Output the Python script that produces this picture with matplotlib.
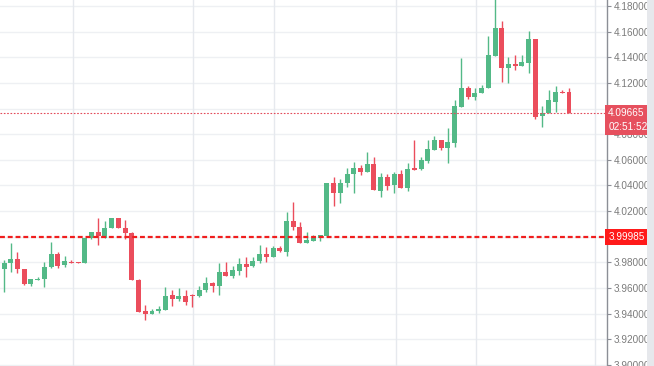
import numpy as np
import matplotlib.pyplot as plt
from matplotlib.patches import Rectangle
from matplotlib.transforms import blended_transform_factory

# candle data (oldest first)
open_ = [3.9749, 3.9796, 3.9827, 3.9749, 3.9632, 3.9663, 3.9671, 3.9764, 3.9866, 3.9780,
         3.9803, 3.9800, 3.9796, 3.9991, 4.0037, 3.9991, 4.0069, 4.0147, 4.0069, 4.0030,
         3.9663, 3.9421, 3.9398, 3.9421, 3.9429, 3.9546, 3.9515, 3.9538, 3.9546, 3.9538,
         3.9585, 3.9640, 3.9616, 3.9725, 3.9694, 3.9733, 3.9788, 3.9772, 3.9811, 3.9866,
         3.9843, 3.9913, 3.9881, 4.0123, 4.0076, 3.9952, 3.9967, 3.9991, 4.0006, 4.0420,
         4.0342, 4.0420, 4.0490, 4.0537, 4.0505, 4.0568, 4.0357, 4.0466, 4.0404, 4.0490,
         4.0381, 4.0537, 4.0529, 4.0591, 4.0677, 4.0755, 4.0693, 4.0732, 4.1012, 4.1161,
         4.1090, 4.1122, 4.1161, 4.1410, 4.1629, 4.1317, 4.1348, 4.1332, 4.1356, 4.1543,
         4.0942, 4.0966, 4.1051, 4.1129, 4.1129]
high = [3.9819, 3.9952, 3.9881, 3.9749, 3.9671, 3.9686, 3.9803, 3.9960, 3.9881, 3.9850,
        3.9819, 3.9803, 3.9991, 4.0037, 4.0147, 4.0123, 4.0147, 4.0147, 4.0131, 4.0037,
        3.9671, 3.9468, 3.9437, 3.9460, 3.9608, 3.9585, 3.9601, 3.9585, 3.9554, 3.9616,
        3.9686, 3.9648, 3.9796, 3.9803, 3.9772, 3.9835, 3.9843, 3.9843, 3.9936, 3.9921,
        3.9928, 3.9928, 4.0193, 4.0271, 4.0115, 4.0037, 4.0014, 4.0014, 4.0420, 4.0466,
        4.0451, 4.0537, 4.0583, 4.0560, 4.0661, 4.0622, 4.0498, 4.0490, 4.0505, 4.0521,
        4.0576, 4.0755, 4.0622, 4.0755, 4.0786, 4.0755, 4.0849, 4.1067, 4.1395, 4.1176,
        4.1161, 4.1184, 4.1566, 4.1860, 4.1683, 4.1402, 4.1418, 4.1418, 4.1605, 4.1543,
        4.1020, 4.1145, 4.1176, 4.1145, 4.1161]
low = [3.9569, 3.9725, 3.9718, 3.9624, 3.9616, 3.9663, 3.9608, 3.9757, 3.9757, 3.9764,
       3.9796, 3.9794, 3.9796, 3.9983, 3.9936, 3.9991, 4.0069, 4.0069, 3.9983, 3.9663,
       3.9413, 3.9351, 3.9398, 3.9406, 3.9429, 3.9460, 3.9499, 3.9468, 3.9452, 3.9530,
       3.9569, 3.9569, 3.9546, 3.9694, 3.9679, 3.9702, 3.9686, 3.9764, 3.9796, 3.9803,
       3.9843, 3.9881, 3.9850, 4.0053, 3.9952, 3.9952, 3.9967, 3.9967, 3.9998, 4.0240,
       4.0263, 4.0389, 4.0342, 4.0482, 4.0505, 4.0365, 4.0311, 4.0365, 4.0342, 4.0381,
       4.0357, 4.0521, 4.0521, 4.0576, 4.0677, 4.0677, 4.0576, 4.0700, 4.1012, 4.1075,
       4.1067, 4.1122, 4.1161, 4.1410, 4.1207, 4.1200, 4.1301, 4.1332, 4.1278, 4.0919,
       4.0856, 4.0966, 4.0973, 4.1122, 4.0966]
close = [3.9796, 3.9827, 3.9749, 3.9632, 3.9671, 3.9671, 3.9764, 3.9866, 3.9772, 3.9811,
         3.9796, 3.9794, 3.9991, 4.0037, 4.0006, 4.0069, 4.0147, 4.0069, 4.0030, 3.9663,
         3.9413, 3.9398, 3.9421, 3.9437, 3.9538, 3.9515, 3.9538, 3.9491, 3.9540, 3.9585,
         3.9640, 3.9616, 3.9725, 3.9694, 3.9741, 3.9788, 3.9764, 3.9811, 3.9866, 3.9843,
         3.9913, 3.9889, 4.0123, 4.0076, 3.9952, 3.9975, 3.9991, 4.0014, 4.0420, 4.0342,
         4.0420, 4.0490, 4.0537, 4.0505, 4.0568, 4.0365, 4.0466, 4.0396, 4.0490, 4.0381,
         4.0529, 4.0521, 4.0599, 4.0685, 4.0755, 4.0693, 4.0739, 4.1020, 4.1161, 4.1090,
         4.1122, 4.1161, 4.1418, 4.1629, 4.1317, 4.1348, 4.1332, 4.1363, 4.1543, 4.0934,
         4.0966, 4.1067, 4.1129, 4.1122, 4.09665]

support_level = 3.99985
last_price = 4.09665
countdown = "02:51:52"
y_ticks = [3.90, 3.92, 3.94, 3.96, 3.98, 4.00, 4.02, 4.04, 4.06, 4.08, 4.10, 4.12, 4.14, 4.16, 4.18]
session_lines = [10.25, 28.1, 40.15, 58.3, 70.2, 87.9]

green = '#53b987'
red = '#eb4d5c'

o = np.array(open_)
h = np.array(high)
l = np.array(low)
c = np.array(close)
x = np.arange(len(o))
up = c >= o
colors = np.where(up, green, red)

plt.rcParams['font.family'] = ['Liberation Sans', 'DejaVu Sans']

fig = plt.figure(figsize=(6.54, 3.66), dpi=100)
ax = fig.add_axes([0, 0, 607 / 654, 1])

# grid
for v in y_ticks:
    ax.axhline(v, color='#eef0f3', lw=1, zorder=0)
for v in session_lines:
    ax.axvline(v, color='#e6e9ee', lw=1, zorder=0)

# candles
ax.vlines(x, l, h, colors=colors, lw=1, zorder=2)
body = np.maximum(np.abs(c - o), 0.0008)
ax.bar(x, body, bottom=np.minimum(o, c), width=0.74, color=colors, lw=0, zorder=3)

# price lines
ax.axhline(support_level, color='#f01e1e', lw=1.6, ls=(0, (2.2, 1.3)), zorder=4)
ax.axhline(last_price, color='#e34a5a', lw=0.8, ls=(0, (1.5, 1.5)), zorder=4)

ax.set_xlim(-0.6, 89.65)
ax.set_ylim(3.8992, 4.1847)

for s in ['left', 'top', 'bottom']:
    ax.spines[s].set_visible(False)
ax.spines['right'].set_color('#8c8f96')
ax.spines['right'].set_linewidth(1)
ax.set_xticks([])
ax.yaxis.tick_right()
ax.set_yticks(y_ticks)
ax.set_yticklabels(['%.5f' % v for v in y_ticks])
ax.tick_params(axis='y', length=3, width=0.8, color='#8c8f96', labelcolor='#7b7b7b',
               labelsize=7.2, pad=2)

# labels on the price scale
tr = blended_transform_factory(ax.transAxes, ax.transData)
box = dict(boxstyle='square,pad=0.28', lw=0)
ax.text(1.002, support_level, '%.5f' % support_level, transform=tr, ha='left', va='center',
        fontsize=7.2, color='white', clip_on=False, zorder=6,
        bbox=dict(box, facecolor='#ff1a1a'))
ax.text(1.002, last_price, '%.5f' % last_price, transform=tr, ha='left', va='center',
        fontsize=7.2, color='white', clip_on=False, zorder=6,
        bbox=dict(box, facecolor='#e6505e'))
ax.annotate(countdown, xy=(1.002, last_price), xycoords=tr, xytext=(0, -10.5),
            textcoords='offset points', ha='left', va='center', fontsize=7.2,
            color='white', annotation_clip=False, zorder=6,
            bbox=dict(box, facecolor='#e6505e'))

# grey strip at the far right
fig.patches.append(Rectangle((647 / 654, 0), 7 / 654, 1, transform=fig.transFigure,
                             facecolor='#e6e8ec', edgecolor='none'))

fig.savefig('out.png', dpi=100)
